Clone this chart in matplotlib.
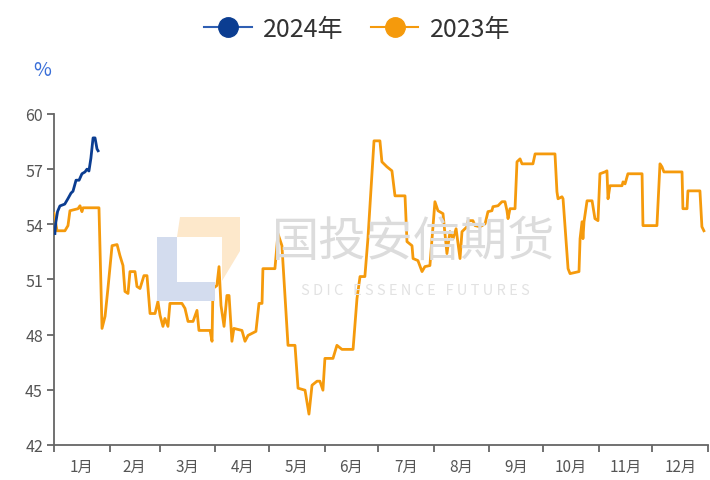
import matplotlib
matplotlib.use("Agg")
import matplotlib.pyplot as plt
from matplotlib.patches import Polygon
from matplotlib.lines import Line2D

plt.rcParams['font.family'] = ['Noto Sans CJK SC', 'DejaVu Sans']

# ---- data (x = day of year, y = %) ----
days_2024 = [0.5, 1, 2, 3.3, 6, 7.8, 9.5, 10.6, 12.3, 14, 15.6, 17.3, 18.4, 19.5, 20.6, 21.8, 22.9, 24, 24.6]
vals_2024 = [53.5, 54.1, 54.7, 55.0, 55.1, 55.4, 55.7, 55.8, 56.4, 56.4, 56.75, 56.85, 57.0, 56.9, 57.6, 58.7, 58.7, 58.1, 58.0]

days_2023 = [0, 1.7, 6.1, 7.8, 8.9, 13.4, 14.5, 15.6, 16.2, 25.1, 26.8, 28.5, 30.1, 32.4, 35.2, 36.8, 38.5,
             39.6, 41.3, 42.4, 45.2, 46.3, 48, 50.2, 51.9, 53.6, 56.4, 58, 59.2, 60.8, 61.9, 63.6, 64.7,
             71.4, 73.1, 74.8, 77.6, 79.8, 80.9, 87.1, 88.2, 88.7, 90.9, 92.1, 93.2, 94.9, 96.5, 97.7,
             99.3, 100.4, 104.9, 106.6, 108.3, 112.7, 114.4, 116.1, 116.6, 123.3, 125, 127.2, 130.6,
             134.5, 136.2, 140.1, 142.3, 144, 146.8, 148.4, 150.1, 151.2, 155.7, 157.9, 160.7, 166.9,
             169.1, 170.8, 173.5, 175.2, 178.6, 181.9, 183, 185.8, 188.6, 190.3, 195.9, 197, 199.8,
             200.4, 203.1, 205.4, 207, 209.8, 212.6, 214.3, 217.1, 219.3, 221.0, 222.7, 224.4, 226.6,
             227.7, 230.5, 231.1, 233.8, 235.0, 237.8, 240.6, 242.2, 244.4, 245.0, 247.8, 250.0, 251.7,
             252.8, 253.4, 254.5, 257.3, 258.4, 260.1, 261.2, 267.3, 268.5, 279.6, 280.7, 281.3, 283.5,
             284.1, 286.9, 288.0, 293.0, 293.6, 294.7, 295.2, 295.8, 297.5, 300.3, 301.9, 303.6, 304.7,
             307.5, 308.6, 309.2, 310.3, 317.0, 317.6, 318.7, 319.2, 320.3, 328.2, 328.7, 336.5, 338.2,
             339.3, 340.4, 350.5, 351.0, 353.3, 353.8, 360.5, 361.6, 362.7]
vals_2023 = [54.6, 53.65, 53.65, 53.93, 54.74, 54.85, 55.01, 54.69, 54.9, 54.9, 48.34, 49.0, 50.51, 52.84,
             52.9, 52.3, 51.76, 50.35, 50.24, 51.43, 51.43, 50.62, 50.51, 51.21, 51.21, 49.15, 49.15,
             49.8, 49.05, 48.45, 48.88, 48.45, 49.7, 49.7, 49.43, 48.72, 48.72, 49.32, 48.23, 48.23,
             47.64, 50.51, 50.67, 51.7, 49.59, 48.45, 50.13, 50.13, 47.64, 48.34, 48.23, 47.64, 47.96,
             48.18, 49.7, 49.7, 51.59, 51.59, 53.49, 52.84, 47.42, 47.42, 45.09, 44.98, 43.68, 45.25,
             45.47, 45.47, 44.98, 46.71, 46.71, 47.42, 47.2, 47.2, 49.97, 51.16, 51.16, 53.22, 58.54,
             58.54, 57.4, 57.13, 56.91, 55.55, 55.55, 53.06, 52.84, 52.14, 52.03, 51.43, 51.7, 51.76,
             55.23, 54.74, 54.58, 52.41, 53.6, 53.22, 53.76, 52.14, 53.6, 53.87, 54.2, 54.2, 53.93,
             53.87, 54.03, 54.69, 54.74, 54.96, 55.01, 55.23, 55.23, 54.74, 54.31, 54.85, 54.85, 57.4,
             57.56, 57.29, 57.29, 57.83, 57.83, 55.77, 55.39, 55.5, 55.39, 51.59, 51.32, 51.43, 53.22,
             54.14, 53.22, 54.14, 55.28, 55.28, 54.31, 54.2, 56.75, 56.85, 56.91, 55.39, 56.1, 56.1,
             56.31, 56.2, 56.37, 56.75, 56.75, 53.93, 53.93, 57.29, 57.13, 56.85, 56.85, 54.85, 54.85,
             55.82, 55.82, 53.87, 53.65]

month_edges = [0, 31, 59, 90, 120, 151, 181, 212, 243, 273, 304, 334, 365]
month_labels = ['1月', '2月', '3月', '4月', '5月', '6月', '7月', '8月', '9月', '10月', '11月', '12月']
y_ticks = [42, 45, 48, 51, 54, 57, 60]
series_names = ['2024年', '2023年']

c_blue = '#0B3D91'
c_orange = '#F59A0C'
c_axis = '#666666'
c_text = '#555555'

W, H = 710, 481
fig = plt.figure(figsize=(W / 100, H / 100), dpi=100)
ax = fig.add_axes([54 / W, 1 - 446 / H, (708 - 54) / W, (446 - 115) / H])

# ---- watermark (figure pixel coordinates) ----
def fx(px):
    return px / W

def fy(py):
    return 1 - py / H

blue_L = [(157, 238), (177, 238), (177, 283), (215, 283), (215, 302), (157, 302)]
orange_shape = [(180, 218), (240, 218), (240, 252), (222, 282), (222, 238), (177, 238)]
fig.patches.append(Polygon([(fx(a), fy(b)) for a, b in blue_L], closed=True,
                           transform=fig.transFigure, facecolor='#d3dcee', edgecolor='none', zorder=0))
fig.patches.append(Polygon([(fx(a), fy(b)) for a, b in orange_shape], closed=True,
                           transform=fig.transFigure, facecolor='#fde8cb', edgecolor='none', zorder=0))
fig.text(fx(414), fy(243), '国投安信期货', fontsize=34, color='#dcdcdc', ha='center', va='center', zorder=0)
fig.text(fx(415), fy(291), 'S D I C   E S S E N C E   F U T U R E S', fontsize=10.5, color='#e2e2e2',
         ha='center', va='center', zorder=0)

ax.patch.set_alpha(0)
ax.plot(days_2023, vals_2023, color=c_orange, lw=2.0, solid_joinstyle='round', zorder=3)
ax.plot(days_2024, vals_2024, color=c_blue, lw=2.0, solid_joinstyle='round', zorder=4)

ax.set_xlim(0, 365)
ax.set_ylim(42, 60)
ax.set_yticks(y_ticks)
ax.set_yticklabels([str(v) for v in y_ticks])
ax.set_xticks(month_edges)
ax.set_xticklabels([])
centers = [(month_edges[i] + month_edges[i + 1]) / 2 for i in range(12)]
ax.set_xticks(centers, minor=True)
ax.set_xticklabels(month_labels, minor=True)
ax.tick_params(axis='x', which='major', length=5, width=1.3, color=c_axis, direction='out')
ax.tick_params(axis='x', which='minor', length=0, labelsize=11, labelcolor=c_text, pad=9)
ax.tick_params(axis='y', length=5, width=1.3, color=c_axis, labelsize=11.5, labelcolor=c_text, pad=3)

for s in ['top', 'right']:
    ax.spines[s].set_visible(False)
for s in ['left', 'bottom']:
    ax.spines[s].set_color(c_axis)
    ax.spines[s].set_linewidth(1.3)

fig.text(fx(42), fy(70), '%', fontsize=14, color='#3a6fd8', ha='center', va='center')

handles = [Line2D([], [], color='#2f5fb3', lw=1.5, marker='o', markersize=14,
                  markerfacecolor=c_blue, markeredgecolor=c_blue),
           Line2D([], [], color=c_orange, lw=1.5, marker='o', markersize=14,
                  markerfacecolor=c_orange, markeredgecolor=c_orange)]
fig.legend(handles, series_names, loc='center', bbox_to_anchor=(fx(357), fy(30)), ncol=2,
           frameon=False, fontsize=18, handlelength=1.9, handletextpad=0.45, columnspacing=1.1,
           labelcolor='#333333')

fig.savefig('out.png', dpi=100)
